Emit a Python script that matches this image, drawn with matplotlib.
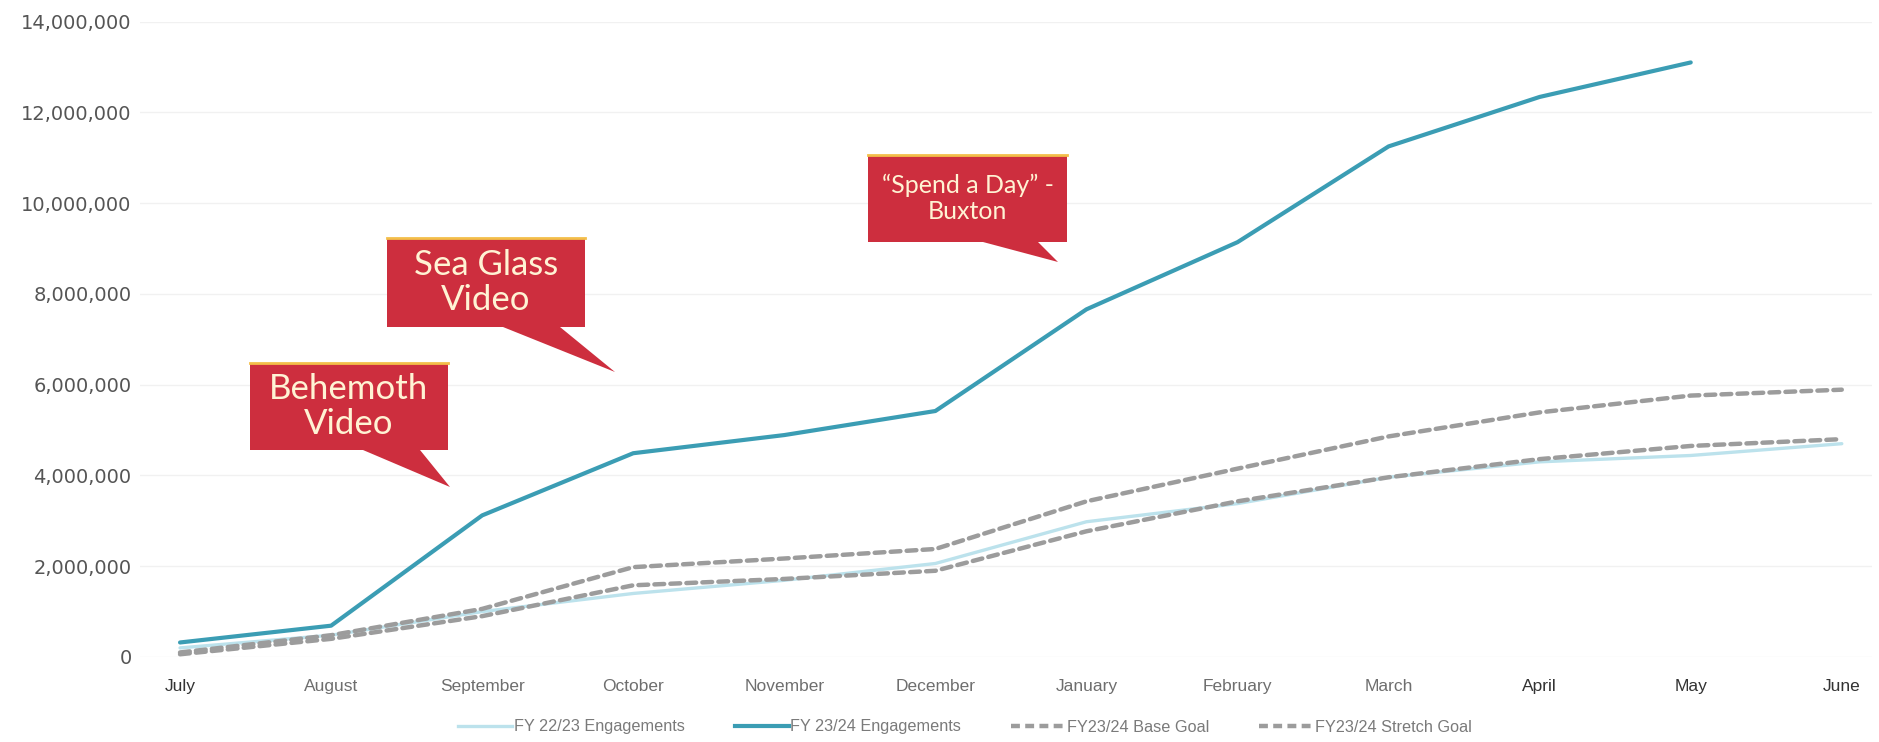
import matplotlib
matplotlib.use("Agg")
import matplotlib.pyplot as plt
from matplotlib.patches import Polygon
from matplotlib.lines import Line2D
from matplotlib.ticker import FuncFormatter, MultipleLocator

months = ["July", "August", "September", "October", "November", "December",
          "January", "February", "March", "April", "May", "June"]

fy2223 = [200000, 480000, 1000000, 1400000, 1690000, 2060000,
          2980000, 3380000, 3960000, 4300000, 4440000, 4700000]
fy2324 = [320000, 690000, 3120000, 4490000, 4890000, 5420000,
          7660000, 9140000, 11250000, 12340000, 13100000]
base_goal = [100000, 480000, 1060000, 1980000, 2170000, 2380000,
             3430000, 4150000, 4860000, 5390000, 5760000, 5890000]
stretch_goal = [60000, 400000, 900000, 1580000, 1720000, 1900000,
                2770000, 3430000, 3960000, 4360000, 4650000, 4800000]

series_labels = ["FY 22/23 Engagements", "FY 23/24 Engagements",
                 "FY23/24 Base Goal", "FY23/24 Stretch Goal"]

W, H = 1879, 742
TEAL = "#3B9DB4"
LIGHT = "#BCE2EC"
GREY = "#9C9C9C"
RED = "#CD2E3E"
GOLD = "#F3BE4A"
CREAM = "#FFF3D4"
narrow = ["Liberation Sans Narrow", "Liberation Sans", "DejaVu Sans"]

fig = plt.figure(figsize=(W / 100, H / 100), dpi=100)
fig.patch.set_facecolor("white")
ax = fig.add_axes([140 / W, 85 / H, 1732 / W, 635.4 / H])

x_all = list(range(len(months)))
ax.plot(x_all, fy2223, color=LIGHT, lw=2.4, zorder=2, solid_capstyle="round")
ax.plot(x_all, stretch_goal, color=GREY, lw=3.2, zorder=3,
        dashes=(2.2, 1.4), dash_capstyle="round")
ax.plot(x_all, base_goal, color=GREY, lw=3.2, zorder=3,
        dashes=(2.2, 1.4), dash_capstyle="round")
ax.plot(x_all[:len(fy2324)], fy2324, color=TEAL, lw=3.0, zorder=4,
        solid_capstyle="round")

ax.set_xlim(-0.265, 11.2)
ax.set_ylim(0, 14_000_000)
ax.yaxis.set_major_locator(MultipleLocator(2_000_000))
ax.yaxis.set_major_formatter(FuncFormatter(lambda v, p: f"{int(v):,}"))
ax.grid(axis="y", color="#F1F1F1", lw=1)
ax.set_axisbelow(True)
for s in ax.spines.values():
    s.set_visible(False)
ax.tick_params(axis="both", length=0)
ax.tick_params(axis="y", pad=6, labelsize=14, labelcolor="#555555")
ax.set_xticks(x_all)
ax.set_xticklabels(months, fontfamily=narrow, fontsize=12.5)
dark = {"July", "April", "May", "June"}
for t in ax.get_xticklabels():
    t.set_color("#333333" if t.get_text() in dark else "#6E6E6E")
ax.tick_params(axis="x", pad=16)
for t in ax.get_yticklabels():
    t.set_fontfamily("DejaVu Sans")

# legend
handles = [
    Line2D([], [], color=LIGHT, lw=2.4),
    Line2D([], [], color=TEAL, lw=3.0),
    Line2D([], [], color=GREY, lw=3.2, dashes=(2.0, 1.2)),
    Line2D([], [], color=GREY, lw=3.2, dashes=(2.0, 1.2)),
]
leg = fig.legend(handles, series_labels, loc="center",
                 bbox_to_anchor=(965 / W, 1 - 727 / H), ncol=4, frameon=False,
                 prop={"family": narrow, "size": 11.7}, handlelength=3.3,
                 handletextpad=0.1, columnspacing=3.1)
for t in leg.get_texts():
    t.set_color("#7A7A7A")


def px(x, y):
    return (x / W, 1 - y / H)


def callout(box, base, tip, lines, size):
    x0, y0, x1, y1 = box
    verts = [(x0, y0), (x1, y0), (x1, y1), (base[1], y1), tip,
             (base[0], y1), (x0, y1)]
    fig.patches.append(Polygon([px(*v) for v in verts], closed=True,
                               transform=fig.transFigure, facecolor=RED,
                               edgecolor="none", zorder=5))
    fig.lines.append(Line2D([x0 / W, x1 / W], [1 - y0 / H] * 2,
                            transform=fig.transFigure, color=GOLD, lw=2,
                            zorder=6))
    cx, cy = px((x0 + x1) / 2, (y0 + y1) / 2)
    fig.text(cx, cy, lines, ha="center", va="center", color=CREAM,
             fontsize=size, family=["Lato", "DejaVu Sans"],
             linespacing=1.15, zorder=7)


callout((250, 363, 448, 450), (363, 420), (450, 487),
        "Behemoth\nVideo", 25)
callout((387, 238, 585, 327), (503, 560), (615, 372),
        "Sea Glass\nVideo", 25)
callout((868, 155, 1067, 242), (983, 1038), (1058, 262),
        "\u201cSpend a Day\u201d -\nBuxton", 18)

fig.savefig("out.png", dpi=100, facecolor="white")
